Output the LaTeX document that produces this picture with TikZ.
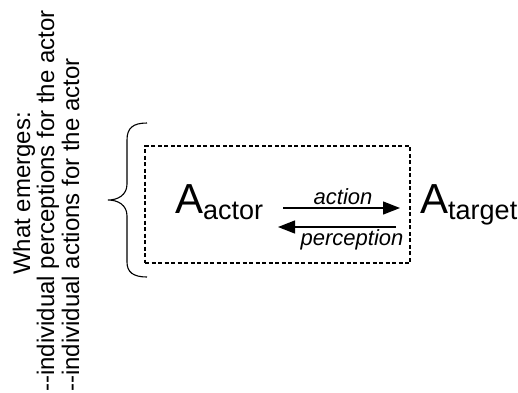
\documentclass[tikz,border=0pt]{standalone}
\usepackage{fontspec}
\setmainfont{Liberation Sans}
\usetikzlibrary{arrows.meta}
\tikzset{
  side/.style={rotate=90, anchor=base west, inner sep=0pt, font=\fontsize{24}{24}\selectfont},
  agent/.style={anchor=base west, inner sep=0pt},
  lbl/.style={anchor=base, inner sep=0pt, font=\fontsize{22}{22}\selectfont\itshape},
  arr/.style={line width=1.3pt, -{Triangle[length=17pt,width=13pt]}},
  boxstyle/.style={draw, line width=1.1pt, dash pattern=on 4pt off 2.5pt, minimum width=265pt, minimum height=117pt, inner sep=0pt},
}
\newcommand{\agentname}[2]{{\fontsize{42}{42}\selectfont #1}\raisebox{-6pt}{\fontsize{27}{27}\selectfont #2}}
\begin{document}
\begin{tikzpicture}[x=1pt,y=-1pt]
\useasboundingbox (0,0) rectangle (518,392);
\node[side] (t1) at (30,275) {What emerges:};
\node[side] (t2) at (54,392) {-{}-individual perceptions for the actor};
\node[side] (t3) at (79,392) {-{}-individual actions for the actor};
\draw[line width=1.1pt] (147,123) .. controls (133,123) and (127,128) .. (127,140) -- (127,184) .. controls (127,195) and (118,200) .. (108,200) .. controls (118,200) and (127,205) .. (127,216) -- (127,262) .. controls (127,272) and (133,277) .. (147,277);
\node[boxstyle] (box) at (277.5,204.5) {};
\node[agent] (actor) at (175,213) {\agentname{A}{actor}};
\node[agent] (target) at (420,213) {\agentname{A}{target}};
\coordinate (a1) at (283,208);
\coordinate (a2) at (400,208);
\coordinate (p1) at (396,227);
\coordinate (p2) at (278,227);
\draw[arr] (a1) -- (a2);
\draw[arr] (p1) -- (p2);
\node[lbl] (lact) at (343,204) {action};
\node[lbl] (lper) at (352,245) {perception};
\end{tikzpicture}
\end{document}
